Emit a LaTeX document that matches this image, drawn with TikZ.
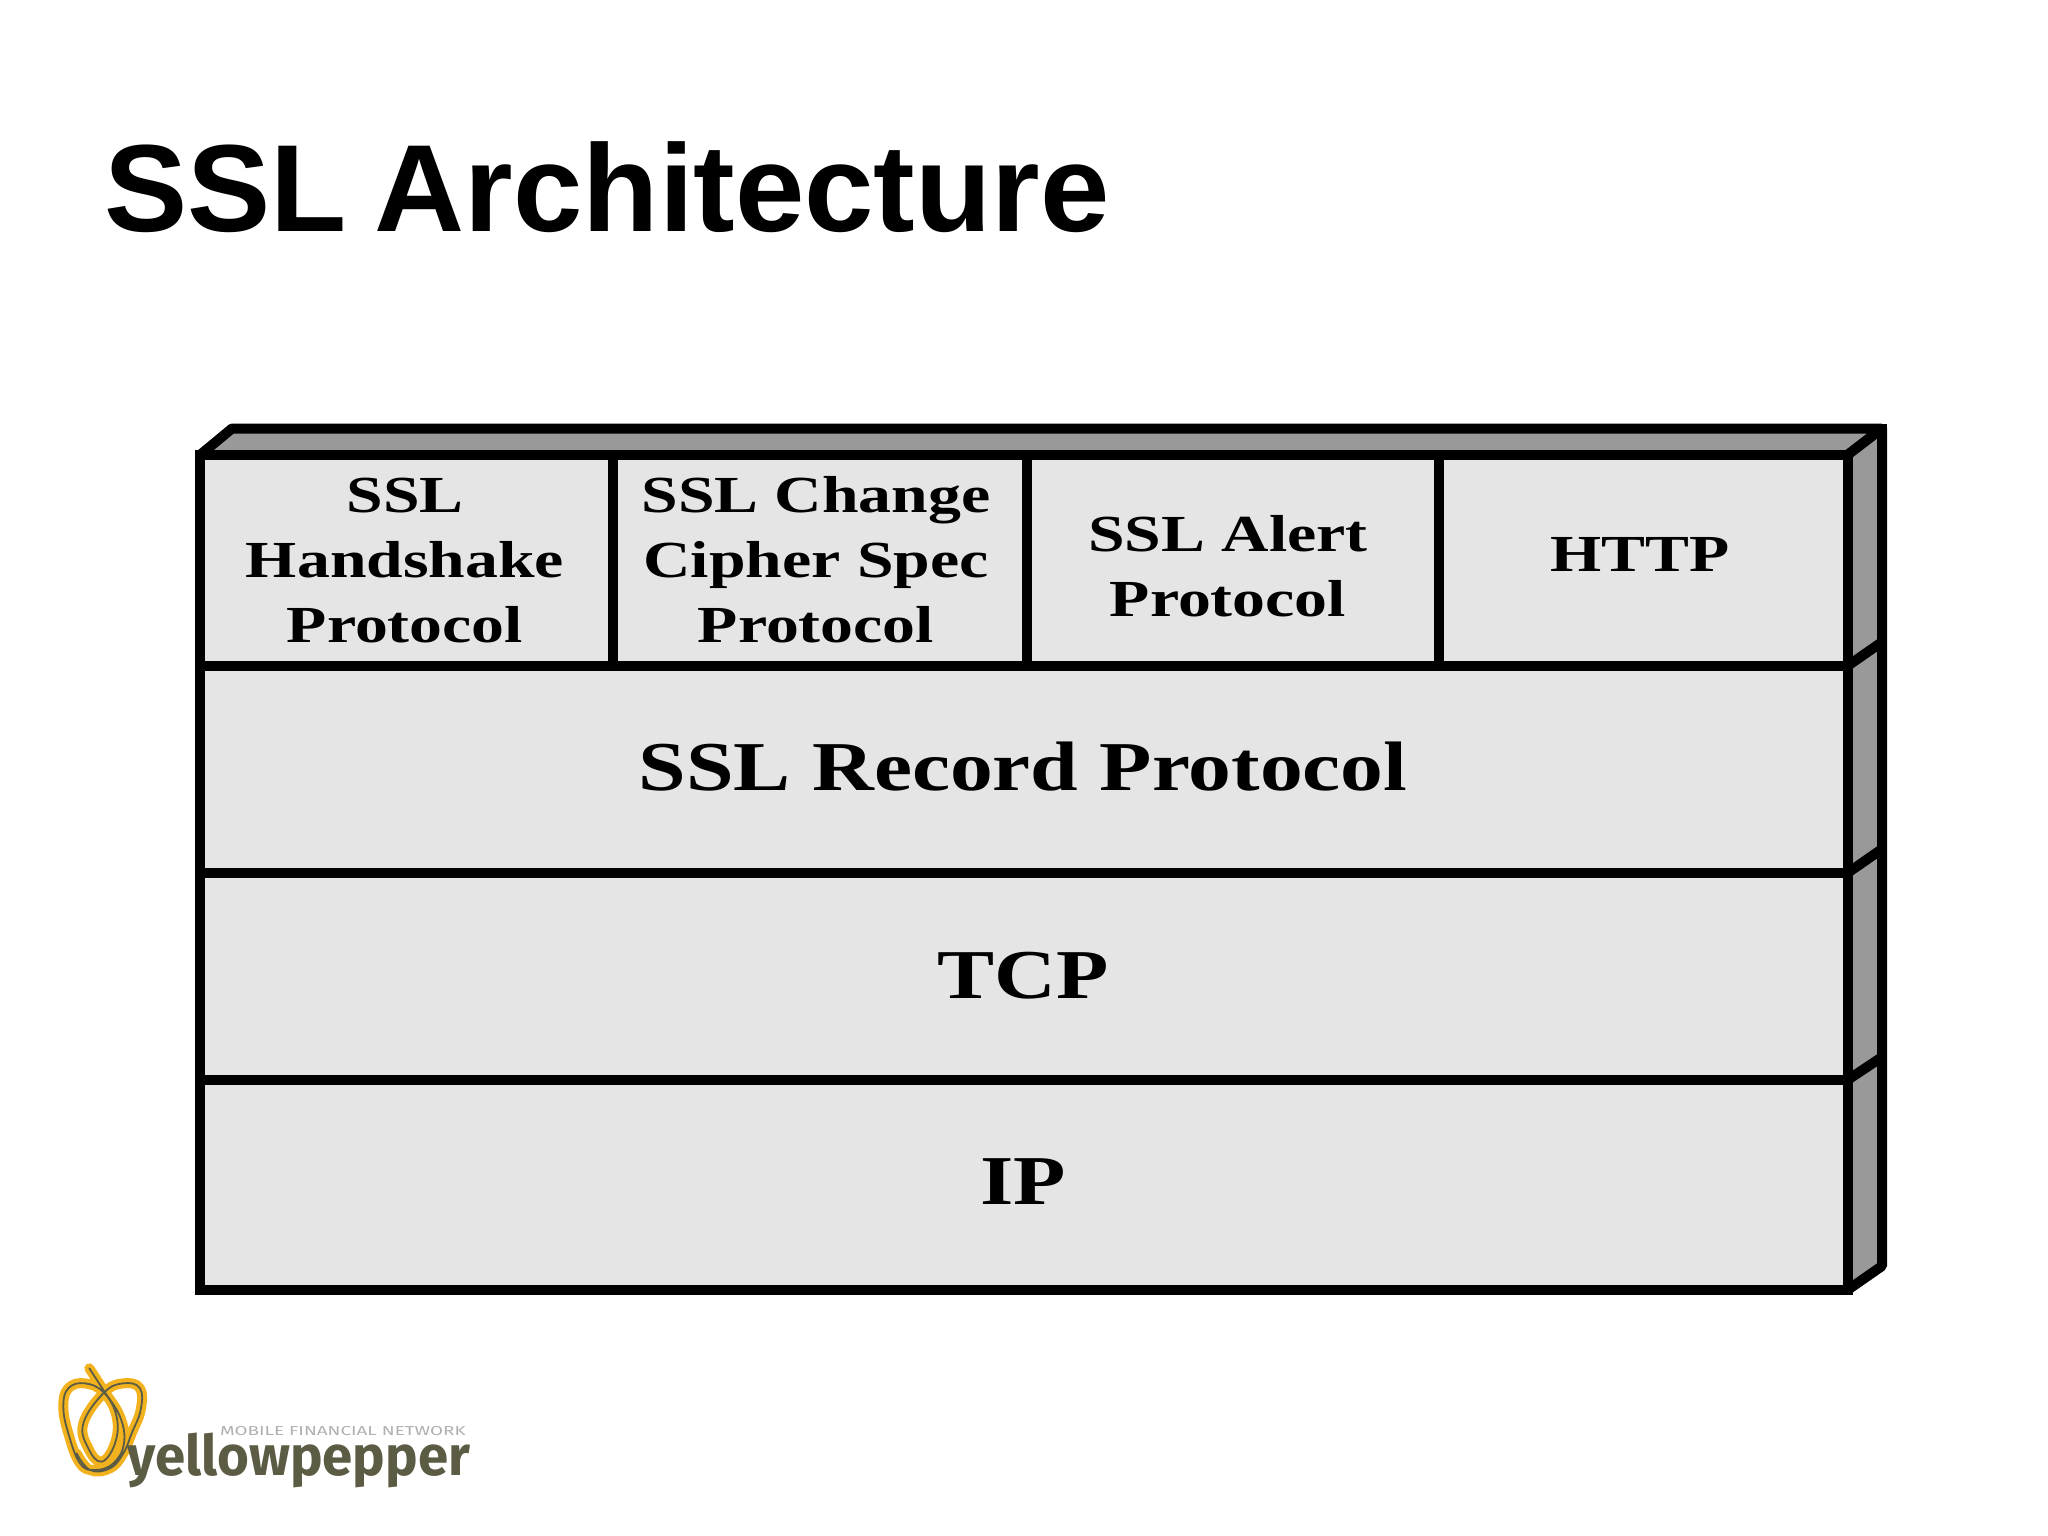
\documentclass[tikz,border=0pt]{standalone}
\usepackage{fontspec}
\setmainfont{Liberation Serif}
\newfontfamily\titlefont{Liberation Sans}
\newfontfamily\logofont{Fira Sans}
\definecolor{facegray}{HTML}{E5E5E5}
\definecolor{sidegray}{HTML}{999999}
\definecolor{peppergold}{HTML}{F2B21E}
\definecolor{logoolive}{HTML}{5C5C45}
\definecolor{logogray}{HTML}{B0B0AE}
\newcommand{\widesm}[1]{\scalebox{1.265}[1]{#1}}
\newcommand{\widelg}[1]{\scalebox{1.223}[1]{#1}}
\tikzset{
  cell/.style={draw=black,line width=10pt,fill=facegray,rectangle,inner sep=0pt,outer sep=0pt},
  side/.style={draw=black,line width=10pt,fill=sidegray,line join=bevel},
  smalltext/.style={font=\fontsize{52}{65}\selectfont\bfseries,align=center,inner sep=0pt,anchor=base},
  bigtext/.style={font=\fontsize{70}{80}\selectfont\bfseries,inner sep=0pt,anchor=base},
  pepperglow/.style={draw=peppergold,line width=10pt,line cap=round,line join=round},
  pepperline/.style={draw=logoolive,line width=1.8pt,line cap=round,line join=round}
}
\begin{document}
\begin{tikzpicture}[x=1pt,y=-1pt]
\useasboundingbox (0,0) rectangle (2048,1536);
\fill[white] (0,0) rectangle (2048,1536);
\node[font=\fontsize{124}{130}\selectfont\bfseries\titlefont,anchor=base west,inner sep=0pt] (title) at (104,231) {\scalebox{1.006}[1]{\spaceskip=28pt SSL Architecture}};
% 3D sides
\coordinate (tl) at (200,455);
\coordinate (tlb) at (232,428.5);
\coordinate (trb) at (1882,428.5);
\coordinate (tr) at (1847.5,455);
\coordinate (br) at (1847.5,1290);
\coordinate (brb) at (1882,1266);
\draw[side] (tl) -- (tlb) -- (trb) -- (tr) -- cycle;
\draw[side] (tr) -- (trb) -- (brb) -- (br) -- cycle;
\fill[black] (1872,423.5) rectangle (1887,438);
\draw[side] (1847.5,666) -- (1882,642);
\draw[side] (1847.5,873) -- (1882,849);
\draw[side] (1847.5,1080) -- (1882,1057);
% cells
\node[cell,minimum width=413pt,minimum height=211pt] (hs) at (406.5,560.5) {};
\node[cell,minimum width=413.5pt,minimum height=211pt] (ccs) at (819.75,560.5) {};
\node[cell,minimum width=412.5pt,minimum height=211pt] (alert) at (1232.75,560.5) {};
\node[cell,minimum width=408.5pt,minimum height=211pt] (http) at (1643.25,560.5) {};
\node[cell,minimum width=1647.5pt,minimum height=207pt] (rec) at (1023.75,769.5) {};
\node[cell,minimum width=1647.5pt,minimum height=207pt] (tcp) at (1023.75,976.5) {};
\node[cell,minimum width=1647.5pt,minimum height=210pt] (ip) at (1023.75,1185) {};
% labels
\node[smalltext] (t1) at (405,642) {\widesm{SSL}\\\widesm{Handshake}\\\widesm{Protocol}};
\node[smalltext] (t2) at (816,642) {\widesm{SSL Change}\\\widesm{Cipher Spec}\\\widesm{Protocol}};
\node[smalltext] (t3) at (1228,616) {\widesm{SSL Alert}\\\widesm{Protocol}};
\node[smalltext] (t4) at (1640,571) {\widesm{HTTP}};
\node[bigtext] (t5) at (1023,790) {\widelg{SSL Record Protocol}};
\node[bigtext] (t6) at (1023,998) {\widelg{TCP}};
\node[bigtext] (t7) at (1023,1204) {\widelg{IP}};
% logo
\begin{scope}[shift={(0,1320)},x=0.3333pt,y=-0.3333pt]
\foreach \st in {pepperglow,pepperline}{
  \draw[\st] plot[smooth,tension=0.7] coordinates {(268,145) (310,210) (360,290) (372,370) (340,430) (285,450) (240,430) (205,340) (190,260) (205,205) (255,190) (312,218) (350,290) (345,370) (305,425) (265,385) (250,310) (312,218) (370,190) (420,205) (422,270) (395,340) (370,400) (330,445) (270,450) (230,400)};
}
\end{scope}
\node[anchor=base west,inner sep=0pt,text=logoolive,font=\fontsize{56}{60}\selectfont\bfseries\logofont] (yp) at (127,1475) {\scalebox{0.975}[1]{yellowpepper}};
\node[anchor=base west,inner sep=0pt,text=logogray,font=\fontsize{13}{14}\selectfont\logofont] (tag) at (220,1435) {\scalebox{1.45}[1]{MOBILE FINANCIAL NETWORK}};
\end{tikzpicture}
\end{document}
